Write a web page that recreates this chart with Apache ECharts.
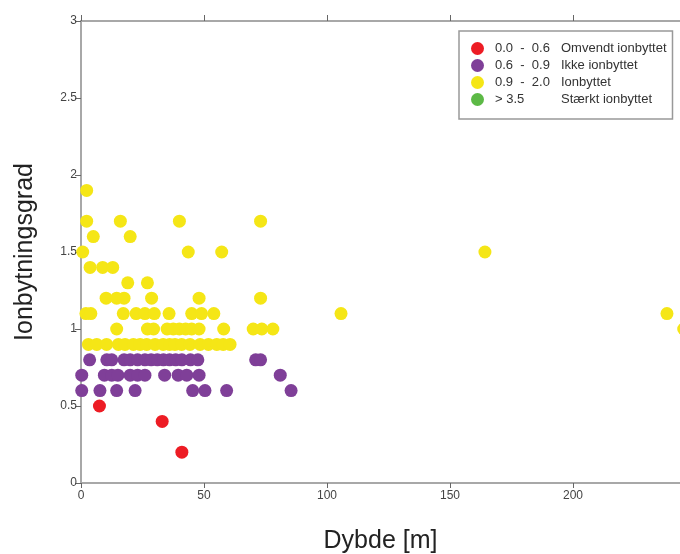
<!DOCTYPE html>
<html>
<head>
<meta charset="utf-8">
<script src="https://cdn.jsdelivr.net/npm/echarts@6/dist/echarts.min.js"></script>
<style>
  html, body { margin: 0; padding: 0; background: #fff; }
  #chart { width: 680px; height: 554px; }
</style>
</head>
<body>
<div id="chart"></div>
<script>
// [dybde, ionbytningsgrad]
const redPoints = [[7.5, 0.5], [33, 0.4], [41, 0.2]]

const purplePoints = [
  [3.5, 0.8], [10.5, 0.8], [12.5, 0.8], [17.5, 0.8], [20, 0.8], [23, 0.8], [26, 0.8], [28.5, 0.8],
  [31, 0.8], [33.5, 0.8], [36, 0.8], [38.5, 0.8], [41, 0.8], [44.5, 0.8], [47.5, 0.8], [71, 0.8], [73, 0.8],
  [0.3, 0.7], [9.5, 0.7], [12.5, 0.7], [15, 0.7], [20, 0.7], [23, 0.7], [26, 0.7], [34, 0.7],
  [39.5, 0.7], [43, 0.7], [48, 0.7], [81, 0.7],
  [0.3, 0.6], [7.7, 0.6], [14.5, 0.6], [22, 0.6], [45.4, 0.6], [50.4, 0.6], [59.2, 0.6], [85.4, 0.6]
]

const yellowPoints = [
  [2.3, 1.9],
  [2.3, 1.7], [16, 1.7], [40, 1.7], [73, 1.7],
  [5, 1.6], [20, 1.6],
  [0.7, 1.5], [43.6, 1.5], [57.2, 1.5], [164.2, 1.5],
  [3.7, 1.4], [8.8, 1.4], [12.9, 1.4],
  [19, 1.3], [27, 1.3],
  [10.2, 1.2], [14.5, 1.2], [17.5, 1.2], [28.7, 1.2], [48, 1.2], [73, 1.2],
  [2, 1.1], [4, 1.1], [17.2, 1.1], [22.4, 1.1], [26, 1.1], [29.8, 1.1], [35.8, 1.1], [45, 1.1],
  [49, 1.1], [54, 1.1], [105.7, 1.1], [238.2, 1.1],
  [14.5, 1.0], [27, 1.0], [29.5, 1.0], [35, 1.0], [37.5, 1.0], [40, 1.0], [42.5, 1.0], [45, 1.0],
  [48, 1.0], [58, 1.0], [70, 1.0], [73.5, 1.0], [78, 1.0], [245, 1.0],
  [3, 0.9], [6.4, 0.9], [10.4, 0.9], [15.2, 0.9], [17.9, 0.9], [21.3, 0.9], [24, 0.9], [26.7, 0.9],
  [30.1, 0.9], [33.4, 0.9], [36, 0.9], [38.2, 0.9], [40.9, 0.9], [44.3, 0.9], [48.4, 0.9], [51.8, 0.9],
  [55.2, 0.9], [57.8, 0.9], [60.6, 0.9]
]

const greenPoints = []

const classRanges = ['0.0  -  0.6', '0.6  -  0.9', '0.9  -  2.0', '> 3.5']
const classNames = ['Omvendt ionbyttet', 'Ikke ionbyttet', 'Ionbyttet', 'Stærkt ionbyttet']
const classColors = ['#ed1c24', '#7f3f98', '#f5e616', '#5cb946']

const chart = echarts.init(document.getElementById('chart'))

const axisGray = '#a8a8a8'
const labelGray = '#444'
const font = 'Liberation Sans, Arial, sans-serif'

const seriesData = [redPoints, purplePoints, yellowPoints, greenPoints]
const series = seriesData.map((pts, i) => ({
  name: classRanges[i],
  type: 'scatter',
  data: pts,
  symbolSize: 13,
  clip: false,
  itemStyle: { color: classColors[i], opacity: 1 },
  emphasis: { disabled: true }
}))

chart.setOption({
  animation: false,
  textStyle: { fontFamily: font },
  grid: { left: 81, right: 0, top: 21, bottom: 71, outerBoundsMode: 'none' },
  legend: {
    orient: 'vertical',
    left: 459,
    top: 31,
    padding: [11, 6, 13, 12],
    borderColor: '#999',
    borderWidth: 1.5,
    backgroundColor: '#fff',
    icon: 'circle',
    itemWidth: 13,
    itemHeight: 13,
    itemGap: 4,
    data: classRanges,
    formatter: (name) => {
      const i = classRanges.indexOf(name)
      return `{a|${name}}{b|${classNames[i]}}`
    },
    textStyle: {
      rich: {
        a: { width: 66, padding: [0, 0, 0, 6], fontSize: 13, color: '#333', fontFamily: font },
        b: { fontSize: 13, color: '#333', fontFamily: font }
      }
    }
  },
  xAxis: [
    {
      type: 'value',
      min: 0,
      max: 243.5,
      interval: 50,
      name: 'Dybde [m]',
      nameLocation: 'middle',
      nameGap: 46,
      nameTextStyle: { fontSize: 25, color: '#222', fontFamily: font },
      axisLine: { show: true, lineStyle: { color: axisGray, width: 2 } },
      axisTick: { show: true, length: 5, lineStyle: { color: '#666' } },
      axisLabel: { color: labelGray, fontSize: 12, margin: 7, showMaxLabel: false },
      splitLine: { show: false }
    },
    {
      type: 'value',
      position: 'top',
      min: 0,
      max: 243.5,
      interval: 50,
      axisLine: { show: true, lineStyle: { color: axisGray, width: 2 } },
      axisTick: { show: true, length: 6, lineStyle: { color: '#666' } },
      axisLabel: { show: false },
      splitLine: { show: false }
    }
  ],
  yAxis: {
    type: 'value',
    min: 0,
    max: 3,
    interval: 0.5,
    name: 'Ionbytningsgrad',
    nameLocation: 'middle',
    nameGap: 43,
    nameTextStyle: { fontSize: 25, color: '#222', fontFamily: font },
    axisLine: { show: true, lineStyle: { color: axisGray, width: 2 } },
    axisTick: { show: true, length: 6, lineStyle: { color: '#666' } },
    axisLabel: { color: labelGray, fontSize: 12, margin: 4 },
    splitLine: { show: false }
  },
  series
})
</script>
</body>
</html>
